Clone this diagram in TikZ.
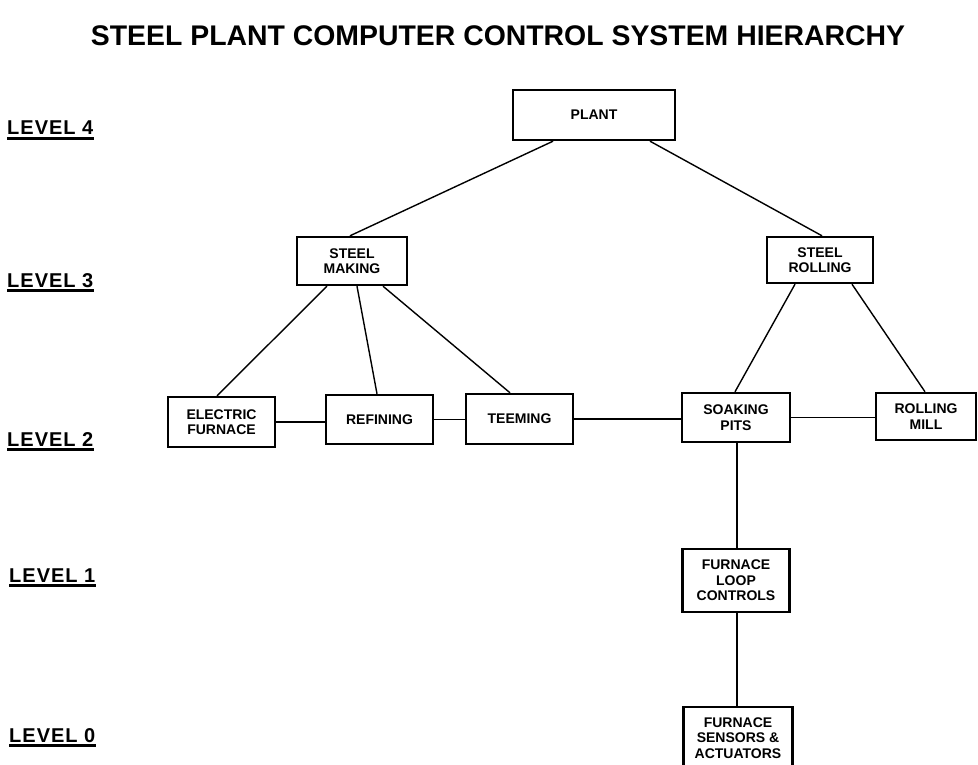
\documentclass[tikz,border=0pt]{standalone}
\usepackage{fontspec}
\setmainfont{Liberation Sans}
\newfontfamily\lvlfont[LetterSpace=5]{Liberation Sans}
\begin{document}
\begin{tikzpicture}[x=1pt,y=-1pt,
  unit/.style={draw, line width=2.4pt, inner sep=0pt, align=center,
    font=\fontsize{14}{15.5}\selectfont\bfseries},
  link/.style={line width=1.4pt},
  lvl/.style={font=\lvlfont\fontsize{20}{20}\selectfont\bfseries, anchor=base west, inner sep=0pt},
  uline/.style={line width=2.4pt}]
\useasboundingbox (0,0) rectangle (978,765);

\node[font=\fontsize{28.4}{30}\selectfont\bfseries] (title) at (498,36)
  {STEEL PLANT COMPUTER CONTROL SYSTEM HIERARCHY};

% level labels
\node[lvl] (l4) at (7,135) {LEVEL 4};
\node[lvl] (l3) at (7,287) {LEVEL 3};
\node[lvl] (l2) at (7,446) {LEVEL 2};
\node[lvl] (l1) at (9,582) {LEVEL 1};
\node[lvl] (l0) at (9,742) {LEVEL 0};
\foreach \n in {l4,l3,l2,l1,l0}
  \draw[uline] ([yshift=-3.5pt]\n.base west) -- ([yshift=-3.5pt]\n.base east);

% boxes
\node[unit, minimum width=162pt, minimum height=50pt] (plant) at (594,115) {PLANT};
\node[unit, minimum width=110pt, minimum height=48pt] (sm) at (352,261) {STEEL\\MAKING};
\node[unit, minimum width=106pt, minimum height=46pt] (sr) at (820,260) {STEEL\\ROLLING};
\node[unit, minimum width=107pt, minimum height=50pt] (ef) at (221.5,422) {ELECTRIC\\FURNACE};
\node[unit, minimum width=107pt, minimum height=49pt] (ref) at (379.5,419.5) {REFINING};
\node[unit, minimum width=107pt, minimum height=50pt] (teem) at (519.5,419) {TEEMING};
\node[unit, minimum width=108pt, minimum height=49pt] (sp) at (736,417.5) {SOAKING\\PITS};
\node[unit, minimum width=100pt, minimum height=47pt] (rm) at (926,416.5) {ROLLING\\MILL};
\node[unit, minimum width=107pt, minimum height=63pt] (flc) at (736,580.5) {FURNACE\\LOOP\\CONTROLS};
\node[unit, minimum width=109pt, minimum height=62pt] (fsa) at (738,738) {FURNACE\\SENSORS \&\\ACTUATORS};

% connectors
\draw[link] ([xshift=-41pt]plant.south) -- ([xshift=-2pt]sm.north);
\draw[link] ([xshift=56pt]plant.south) -- ([xshift=2pt]sr.north);
\draw[link] ([xshift=-25pt]sm.south) -- ([xshift=-4.5pt]ef.north);
\draw[link] ([xshift=5pt]sm.south) -- ([xshift=-2.5pt]ref.north);
\draw[link] ([xshift=31pt]sm.south) -- ([xshift=-9.5pt]teem.north);
\draw[link] (ef.east) -- (ef.east -| ref.west);
\draw[link] (ref.east) -- (ref.east -| teem.west);
\draw[link] (teem.east) -- (teem.east -| sp.west);
\draw[link] ([xshift=-25pt]sr.south) -- ([xshift=-1pt]sp.north);
\draw[link] ([xshift=32pt]sr.south) -- ([xshift=-1pt]rm.north);
\draw[link] (sp.east) -- (sp.east -| rm.west);
\draw[link] ([xshift=1pt]sp.south) -- ([xshift=1pt]flc.north);
\draw[link] ([xshift=1pt]flc.south) -- ([xshift=-1pt]fsa.north);
\end{tikzpicture}
\end{document}
